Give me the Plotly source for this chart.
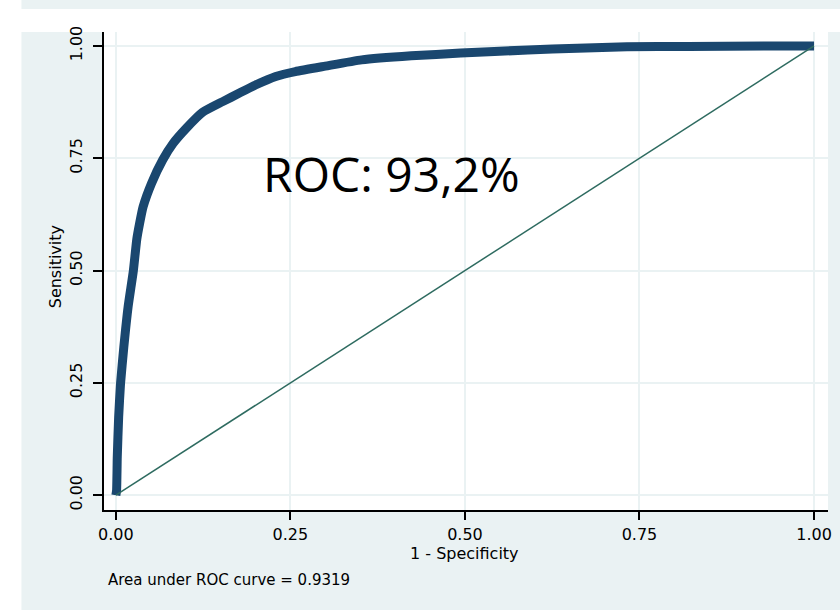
import plotly.graph_objects as go

# ROC curve points
fpr = [0.0, 0.001, 0.002, 0.004, 0.0067, 0.0114, 0.0175, 0.025, 0.030, 0.034,
       0.039, 0.051, 0.067, 0.082, 0.101, 0.124, 0.153, 0.177, 0.200, 0.229,
       0.257, 0.300, 0.352, 0.423, 0.494, 0.590, 0.661, 0.732, 0.820, 1.0]
tpr = [0.0, 0.010, 0.085, 0.174, 0.249, 0.330, 0.419, 0.499, 0.570, 0.605,
       0.642, 0.694, 0.746, 0.783, 0.817, 0.852, 0.876, 0.895, 0.913, 0.932,
       0.943, 0.955, 0.969, 0.978, 0.984, 0.991, 0.995, 0.998, 0.999, 1.0]

diag_x = [0.0, 1.0]
diag_y = [0.0, 1.0]

tick_vals = [0.0, 0.25, 0.5, 0.75, 1.0]
tick_text = ["0.00", "0.25", "0.50", "0.75", "1.00"]

x_title = "1 - Specificity"
y_title = "Sensitivity"
auc_note = "Area under ROC curve = 0.9319"
big_label = "ROC: 93,2%"

BG = "#eaf2f3"
NAVY = "#1a476f"
GREEN = "#2e6b60"

fig = go.Figure()
fig.add_trace(go.Scatter(x=fpr, y=tpr, mode="lines",
                         line=dict(color=NAVY, width=9, shape="spline", smoothing=0.5),
                         hoverinfo="skip"))
fig.add_trace(go.Scatter(x=diag_x, y=diag_y, mode="lines",
                         line=dict(color=GREEN, width=1.5), hoverinfo="skip"))

axis_font = dict(family="DejaVu Sans, Arial, sans-serif", size=16, color="black")

fig.update_layout(
    width=840, height=610,
    margin=dict(l=104, r=8, t=32, b=100),
    paper_bgcolor=BG, plot_bgcolor="white",
    showlegend=False,
    xaxis=dict(range=[-0.017, 1.02], tickvals=tick_vals, ticktext=tick_text,
               showgrid=True, gridcolor=BG, gridwidth=2, zeroline=False,
               showline=True, linecolor="black", linewidth=2,
               ticks="outside", ticklen=8, tickwidth=1.5, tickcolor="black",
               tickfont=axis_font, ticklabelstandoff=1),
    yaxis=dict(range=[-0.033, 1.031], tickvals=tick_vals, ticktext=tick_text,
               showgrid=True, gridcolor=BG, gridwidth=2, zeroline=False,
               showline=True, linecolor="black", linewidth=2,
               ticks="outside", ticklen=9, tickwidth=1.5, tickcolor="black",
               tickangle=-90, tickfont=axis_font, ticklabelstandoff=5),
    shapes=[
        dict(type="rect", xref="paper", yref="paper", layer="below",
             x0=-0.2, x1=1.1, y0=1.0, y1=1.0 + 23 / 478,
             fillcolor="white", line=dict(width=0)),
        dict(type="rect", xref="paper", yref="paper", layer="below",
             x0=-0.2, x1=(21 - 104) / 728, y0=-0.3, y1=1.1,
             fillcolor="white", line=dict(width=0)),
    ],
    annotations=[
        dict(text=big_label, x=0.395, y=0.715, xref="x", yref="y",
             showarrow=False, xanchor="center", yanchor="middle",
             font=dict(family="Open Sans, sans-serif", size=48, color="black")),
        dict(text=x_title, x=(466 - 104) / 728, y=-(553 - 510) / 478,
             xref="paper", yref="paper", showarrow=False,
             xanchor="center", yanchor="middle", font=axis_font),
        dict(text=y_title, x=(55 - 104) / 728, y=(510 - 267) / 478,
             xref="paper", yref="paper", showarrow=False, textangle=-90,
             xanchor="center", yanchor="middle", font=axis_font),
        dict(text=auc_note, x=(106 - 104) / 728, y=-(580 - 510) / 478,
             xref="paper", yref="paper", showarrow=False,
             xanchor="left", yanchor="middle",
             font=dict(family="DejaVu Sans, Arial, sans-serif", size=15, color="black")),
    ],
)

fig.write_html("out.html", config={"displayModeBar": False},
               post_script="document.body.style.margin='0';")
